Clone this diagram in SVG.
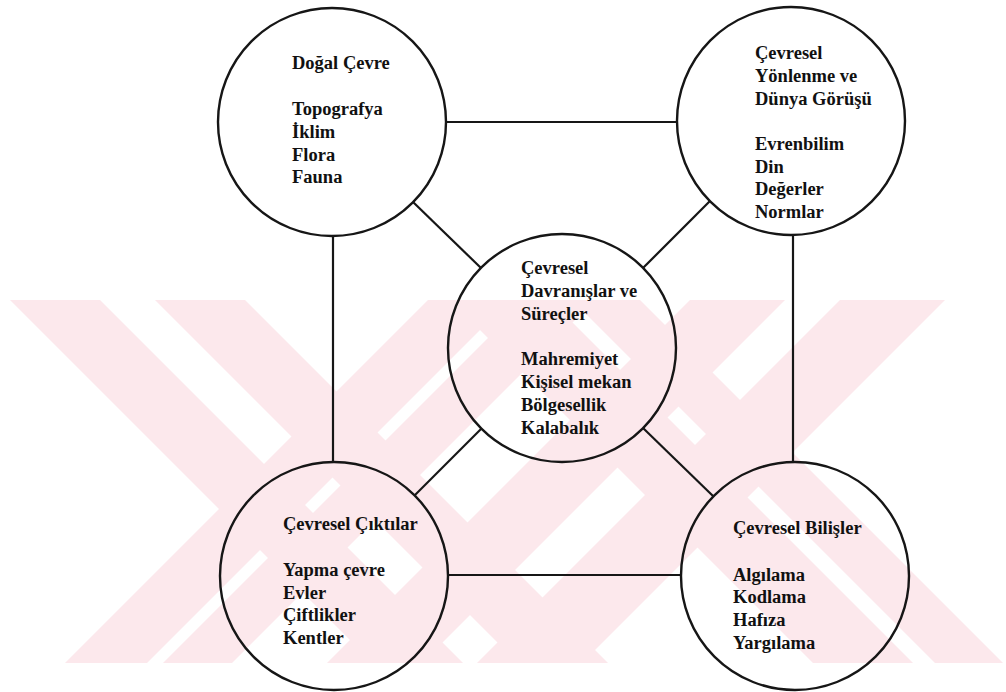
<svg xmlns="http://www.w3.org/2000/svg" width="1006" height="692" viewBox="0 0 1006 692">
<style>
.wm{fill:#fce8ec;stroke:none}
.node{fill:none;stroke:#161616;stroke-width:2.4}
.edge{stroke:#161616;stroke-width:2.2;fill:none}
.t{font-family:"Liberation Serif","Times New Roman",serif;font-weight:bold;font-size:18.5px;fill:#111}
</style>
<defs>
<clipPath id="band"><rect x="0" y="300" width="1006" height="363"/></clipPath>
</defs>
<rect width="1006" height="692" fill="#ffffff"/>
<g id="watermark" clip-path="url(#band)">
<polygon class="wm" points="10,300 100,300 463,663 373,663"/>
<polygon class="wm" points="155,300 245,300 608,663 518,663"/>
<polygon class="wm" points="428,300 510,300 147,663 65,663"/>
<polygon class="wm" points="526,300 595,300 232,663 163,663"/>
<polygon class="wm" points="450,300 550,300 913,663 813,663"/>
<polygon class="wm" points="572,300 640,300 1003,663 935,663"/>
<polygon class="wm" points="690,300 785,300 422,663 327,663"/>
<polygon class="wm" points="840,300 945,300 582,663 477,663"/>
</g>
<g id="connectors">
<line class="edge" x1="446" y1="122" x2="677" y2="122"/>
<line class="edge" x1="333" y1="236" x2="333" y2="462"/>
<line class="edge" x1="793" y1="235" x2="793" y2="462"/>
<line class="edge" x1="448" y1="575" x2="681" y2="575"/>
<line class="edge" x1="413" y1="202" x2="481" y2="268"/>
<line class="edge" x1="710" y1="201" x2="643" y2="268"/>
<line class="edge" x1="481" y1="429" x2="415" y2="495"/>
<line class="edge" x1="643" y1="428" x2="713" y2="496"/>
</g>
<g id="dogal-cevre">
<circle class="node" cx="332" cy="122" r="114"/>
<text class="t"><tspan x="292" y="69">Doğal Çevre</tspan><tspan x="292" y="115">Topografya</tspan><tspan x="292" y="138">İklim</tspan><tspan x="292" y="160.5">Flora</tspan><tspan x="292" y="183">Fauna</tspan></text>
</g>
<g id="cevresel-yonelme">
<circle class="node" cx="791" cy="121" r="114"/>
<text class="t"><tspan x="755" y="59">Çevresel</tspan><tspan x="755" y="82">Yönlenme ve</tspan><tspan x="755" y="104.5">Dünya Görüşü</tspan><tspan x="755" y="150">Evrenbilim</tspan><tspan x="755" y="172.5">Din</tspan><tspan x="755" y="195">Değerler</tspan><tspan x="755" y="218">Normlar</tspan></text>
</g>
<g id="cevresel-davranislar">
<circle class="node" cx="562" cy="348" r="114"/>
<text class="t"><tspan x="521" y="274">Çevresel</tspan><tspan x="521" y="297">Davranışlar ve</tspan><tspan x="521" y="319.5">Süreçler</tspan><tspan x="521" y="365">Mahremiyet</tspan><tspan x="521" y="388">Kişisel mekan</tspan><tspan x="521" y="411">Bölgesellik</tspan><tspan x="521" y="434">Kalabalık</tspan></text>
</g>
<g id="cevresel-ciktilar">
<circle class="node" cx="334" cy="576" r="114"/>
<text class="t"><tspan x="283" y="530">Çevresel Çıktılar</tspan><tspan x="283" y="576">Yapma çevre</tspan><tspan x="283" y="598.5">Evler</tspan><tspan x="283" y="621">Çiftlikler</tspan><tspan x="283" y="644">Kentler</tspan></text>
</g>
<g id="cevresel-bilisler">
<circle class="node" cx="795" cy="576" r="114"/>
<text class="t"><tspan x="733" y="534">Çevresel Bilişler</tspan><tspan x="733" y="580.5">Algılama</tspan><tspan x="733" y="603">Kodlama</tspan><tspan x="733" y="626">Hafıza</tspan><tspan x="733" y="648.5">Yargılama</tspan></text>
</g>
</svg>
